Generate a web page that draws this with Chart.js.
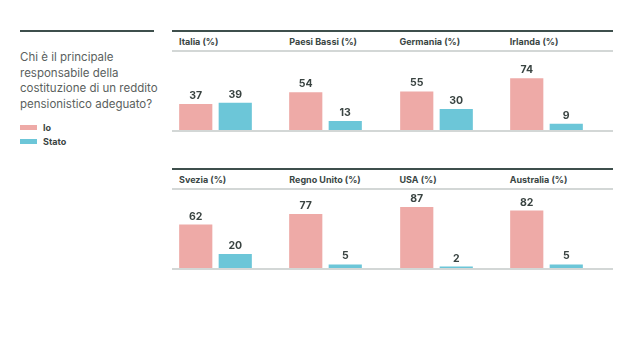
<!DOCTYPE html>
<html>
<head>
<meta charset="utf-8">
<script src="https://cdn.jsdelivr.net/npm/chart.js@4"></script>
<style>
  body { margin: 0; width: 640px; height: 338px; background: #fff; font-family: Inter, "Noto Sans", sans-serif; position: relative; overflow: hidden; }
  .abs { position: absolute; }
  .dark { background: #3e4f4c; height: 2px; }
  .thin { background: #d3d7d6; height: 2px; }
  .question { left: 20px; top: 50px; width: 150px; font-size: 11.5px; line-height: 15.5px; color: #5b5f5e; }
  .leg { left: 20px; font-size: 9px; font-weight: 700; color: #3a4442; }
  .leg span { display: inline-block; width: 17px; height: 5px; margin-right: 6px; vertical-align: middle; position: relative; top: -1px; }
  .ptitle { font-size: 9px; font-weight: 700; color: #3a4644; white-space: nowrap; }
  canvas { position: absolute; }
</style>
</head>
<body>
<div class="abs dark" style="left:20px; top:30px; width:134px;"></div>
<div class="abs question">Chi è il principale responsabile della costituzione di un reddito pensionistico adeguato?</div>
<div class="abs leg" style="top:122px;"><span style="background:#eeaaa7"></span>Io</div>
<div class="abs leg" style="top:136px;"><span style="background:#6cc6d8"></span>Stato</div>
<div id="panels"></div>

<script>
// paesi e valori (%)
const countries = ['Italia', 'Paesi Bassi', 'Germania', 'Irlanda', 'Svezia', 'Regno Unito', 'USA', 'Australia'];
const ioValues = [37, 54, 55, 74, 62, 77, 87, 82];
const statoValues = [39, 13, 30, 9, 20, 5, 2, 5];
const seriesNames = ['Io', 'Stato'];
const seriesColors = ['#eeaaa7', '#6cc6d8'];

// etichette sopra le barre
const valueLabels = {
  id: 'valueLabels',
  afterDatasetsDraw(chart) {
    const ctx = chart.ctx;
    const ds = chart.data.datasets[0];
    ctx.save();
    ctx.font = 'bold 10.5px Inter, sans-serif';
    ctx.fillStyle = '#3a4442';
    ctx.textAlign = 'center';
    ctx.textBaseline = 'bottom';
    chart.getDatasetMeta(0).data.forEach((bar, i) => {
      ctx.fillText(ds.data[i], bar.x, bar.y - 3);
    });
    ctx.restore();
  }
};

const panels = document.getElementById('panels');
const rowTops = [30, 168];   // linea scura in alto di ogni riga
const panelW = 110.25;

// linee delle righe
rowTops.forEach(top => {
  panels.insertAdjacentHTML('beforeend',
    `<div class="abs dark" style="left:172px; top:${top}px; width:441px;"></div>` +
    `<div class="abs thin" style="left:172px; top:${top + 20}px; width:441px;"></div>` +
    `<div class="abs thin" style="left:172px; top:${top + 100}px; width:441px;"></div>`);
});

countries.forEach((name, i) => {
  const col = i % 4, row = Math.floor(i / 4);
  const left = 172 + col * panelW;
  const top = rowTops[row];

  const t = document.createElement('div');
  t.className = 'abs ptitle';
  t.style.left = (left + 7) + 'px';
  t.style.top = (top + 6) + 'px';
  t.textContent = name + ' (%)';
  panels.appendChild(t);

  const cv = document.createElement('canvas');
  cv.style.left = left + 'px';
  cv.style.top = (top + 22) + 'px';
  cv.style.width = '110px';
  cv.style.height = '79px';
  cv.width = 110; cv.height = 79;
  panels.appendChild(cv);

  new Chart(cv, {
    type: 'bar',
    data: {
      labels: seriesNames,
      datasets: [{
        data: [ioValues[i], statoValues[i]],
        backgroundColor: seriesColors,
        barPercentage: 0.84,
        categoryPercentage: 1
      }]
    },
    options: {
      responsive: false,
      animation: false,
      layout: { padding: { left: 4, right: 27, top: 8, bottom: 1 } },
      plugins: { legend: { display: false }, tooltip: { enabled: false } },
      scales: {
        x: { display: false },
        y: { display: false, min: 0, max: 100 }
      }
    },
    plugins: [valueLabels]
  });
});
</script>
</body>
</html>
